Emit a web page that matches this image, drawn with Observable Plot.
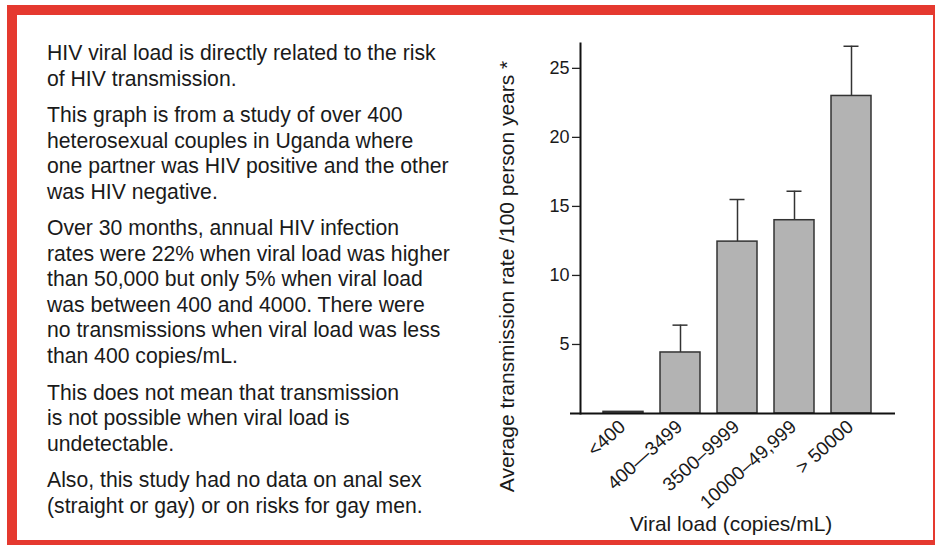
<!DOCTYPE html>
<html>
<head>
<meta charset="utf-8">
<script src="https://cdn.jsdelivr.net/npm/d3@7"></script>
<script src="https://cdn.jsdelivr.net/npm/@observablehq/plot@0.6"></script>
<style>
  html, body { margin: 0; padding: 0; background: #fff; width: 935px; height: 545px; overflow: hidden; }
  body { position: relative; font-family: "Liberation Sans", Arial, Helvetica, sans-serif; color: #1a1a1a; }
  #border { position: absolute; left: 7px; top: 5px; width: 916px; height: 525px; border: 10px solid #e5392f; }
  #text { position: absolute; left: 47px; top: 40px; font-size: 21.2px; line-height: 25.5px; white-space: nowrap; }
  #text p { margin: 0 0 11.2px 0; }
  #chart { position: absolute; left: 470px; top: 30px; }
  #chart svg { overflow: visible; }
</style>
</head>
<body>
<div id="border"></div>
<div id="text">
  <p>HIV viral load is directly related to the risk<br>of HIV transmission.</p>
  <p>This graph is from a study of over 400<br>heterosexual couples in Uganda where<br>one partner was HIV positive and the other<br>was HIV negative.</p>
  <p>Over 30 months, annual HIV infection<br>rates were 22% when viral load was higher<br>than 50,000 but only 5% when viral load<br>was between 400 and 4000. There were<br>no transmissions when viral load was less<br>than 400 copies/mL.</p>
  <p>This does not mean that transmission<br>is not possible when viral load is<br>undetectable.</p>
  <p>Also, this study had no data on anal sex<br>(straight or gay) or on risks for gay men.</p>
</div>
<div id="chart"></div>
<script>
const categories = ["<400", "400\u20143499", "3500\u20139999", "10000\u201349,999", "> 50000"];
const rates = [0.12, 4.42, 12.45, 14.0, 23.0];
const upperErrors = [null, 6.4, 15.5, 16.1, 26.6];
const yTicks = [5, 10, 15, 20, 25];
const yLabel = "Average transmission rate /100 person years *";
const xLabel = "Viral load (copies/mL)";
const yMax = 26.8;

const data = categories.map((c, i) => ({cat: c, value: rates[i], upper: upperErrors[i]}));
const withErr = data.filter(d => d.upper != null);

const ink = "#333";
const plot = Plot.plot({
  width: 460,
  height: 510,
  marginLeft: 100,
  marginRight: 35,
  marginTop: 13,
  marginBottom: 127,
  style: {fontFamily: '"Liberation Sans", Arial, Helvetica, sans-serif', color: "#1a1a1a", background: "transparent"},
  x: {domain: categories, paddingInner: 0.29, paddingOuter: 0.447, align: 0.577, axis: null},
  y: {domain: [0, yMax], axis: null},
  marks: [
    Plot.barY(data, {x: "cat", y: "value", fill: "#b3b3b3", stroke: ink, strokeWidth: 1.5}),
    Plot.ruleX(withErr, {x: "cat", y1: "value", y2: "upper", stroke: ink, strokeWidth: 1.5}),
    Plot.tickY(withErr, {x: "cat", y: "upper", stroke: ink, strokeWidth: 1.5, inset: 12.5}),
    Plot.frame({anchor: "left", dx: 10, stroke: "#111", strokeWidth: 2}),
    Plot.ruleY([0], {stroke: "#111", strokeWidth: 2}),
    Plot.axisY({ticks: yTicks, tickSize: 8, tickPadding: 3, dx: 10, fontSize: 18, label: null, stroke: "#222", strokeWidth: 1.3}),
    Plot.text(categories, {x: d => d, frameAnchor: "bottom", rotate: -42, textAnchor: "end", lineAnchor: "bottom", dx: 3, dy: 15, fontSize: 19, fill: "#1a1a1a"}),
    Plot.text([yLabel], {frameAnchor: "left", rotate: -90, textAnchor: "middle", lineAnchor: "bottom", dx: -56.5, dy: 48, fontSize: 21, fill: "#1a1a1a"}),
    Plot.text([xLabel], {frameAnchor: "bottom", textAnchor: "middle", lineAnchor: "bottom", dx: -2, dy: 117, fontSize: 21, fill: "#1a1a1a"})
  ]
});
document.getElementById("chart").appendChild(plot);
</script>
</body>
</html>
